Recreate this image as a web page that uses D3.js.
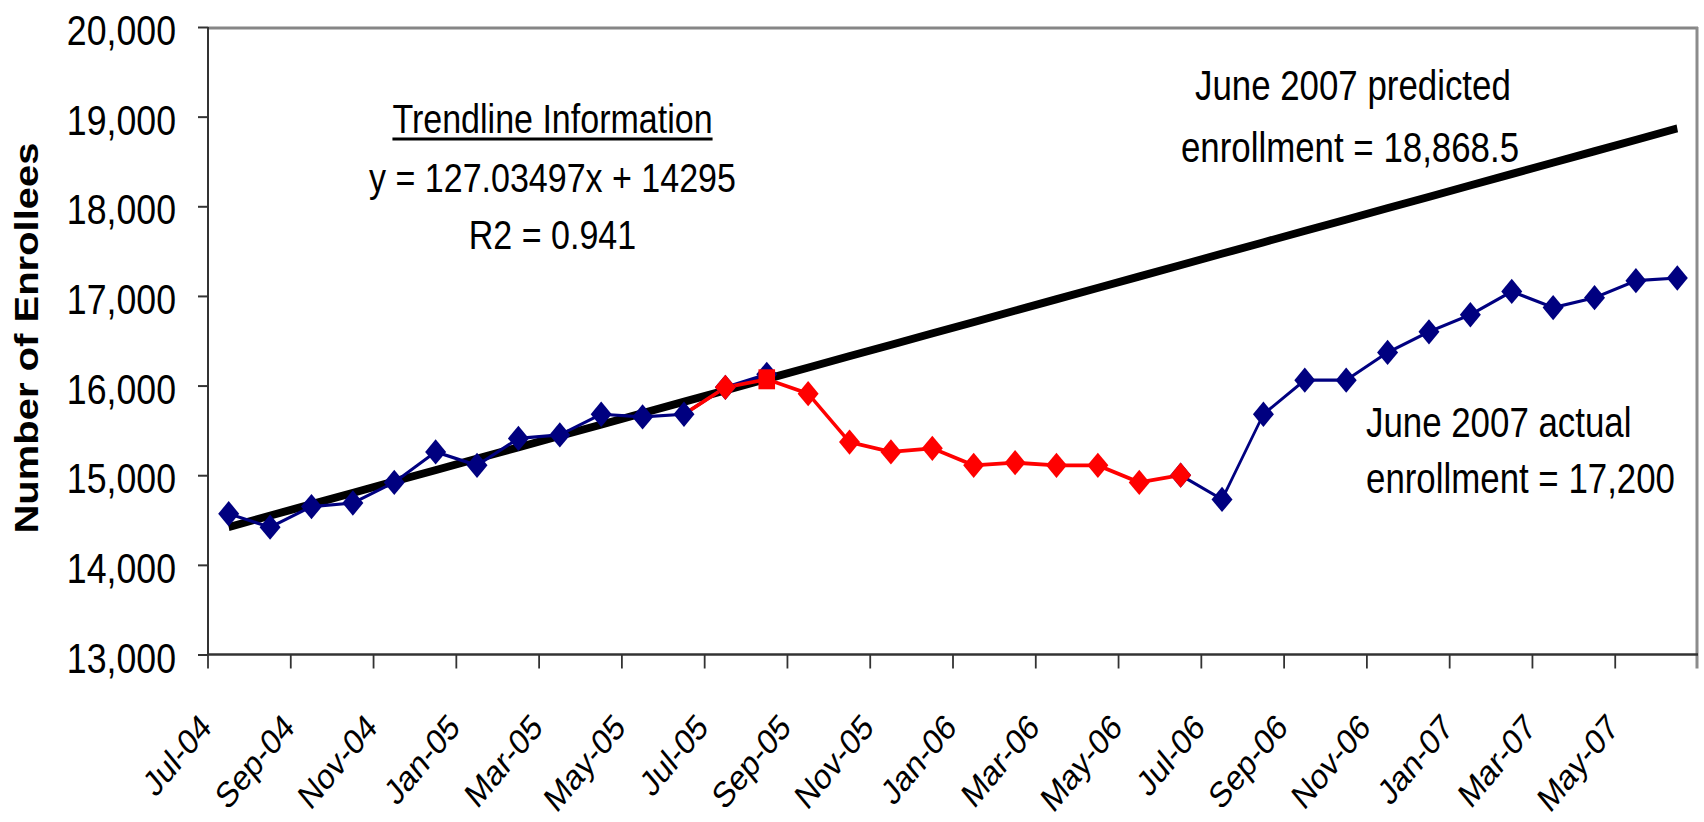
<!DOCTYPE html>
<html>
<head>
<meta charset="utf-8">
<script src="https://cdn.jsdelivr.net/npm/d3@7"></script>
<style>
  html, body { margin: 0; padding: 0; background: #fff; }
  svg { display: block; }
</style>
</head>
<body>
<svg id="chart" width="1704" height="822"></svg>
<script>
// ---- data ----------------------------------------------------------------
const months = [
  "Jul-04","Aug-04","Sep-04","Oct-04","Nov-04","Dec-04",
  "Jan-05","Feb-05","Mar-05","Apr-05","May-05","Jun-05",
  "Jul-05","Aug-05","Sep-05","Oct-05","Nov-05","Dec-05",
  "Jan-06","Feb-06","Mar-06","Apr-06","May-06","Jun-06",
  "Jul-06","Aug-06","Sep-06","Oct-06","Nov-06","Dec-06",
  "Jan-07","Feb-07","Mar-07","Apr-07","May-07","Jun-07"
];

// navy series (gap where the red series takes over)
const actualEnrollment = [
  14570, 14420, 14650, 14690, 14920, 15260,
  15110, 15410, 15450, 15680, 15650, 15680,
  15980, 16125, null,  null,  null,  null,
  null,  null,  null,  null,  null,  15000,
  14730, 15680, 16060, 16060, 16370, 16600,
  16790, 17050, 16870, 16980, 17170, 17200
];

// red series, Jun-05 through Jun-06
const highlightedEnrollment = [
  null,  null,  null,  null,  null,  null,
  null,  null,  null,  null,  null,  15680,
  15980, 16070, 15910, 15370, 15260, 15300,
  15110, 15140, 15110, 15110, 14920, 15000,
  null,  null,  null,  null,  null,  null,
  null,  null,  null,  null,  null,  null
];

const yTicks = [13000, 14000, 15000, 16000, 17000, 18000, 19000, 20000];
const xLabelMonths = months.filter((m, i) => i % 2 === 0);

// linear trendline, x = 1 for Jul-04
const trendSlope = 127.03497;
const trendIntercept = 14295;
const trendR2 = 0.941;

const predictedNote = ["June 2007 predicted", "enrollment = 18,868.5"];
const actualNote = ["June 2007 actual", "enrollment = " + d3.format(",")(actualEnrollment[actualEnrollment.length - 1])];

// ---- layout --------------------------------------------------------------
const FONT = "'Liberation Sans', Arial, Helvetica, sans-serif";
const squeeze = 0.83;              // whole drawing is horizontally condensed
const X = px => px / squeeze;      // page pixels -> condensed frame

const svg = d3.select("#chart");
const root = svg.append("g").attr("transform", `scale(${squeeze},1)`);

const plot = { left: X(208), right: X(1698), top: 27, bottom: 654.5 };

const x = d3.scaleBand().domain(months).range([plot.left, plot.right]);
const y = d3.scaleLinear().domain([13000, 20000]).range([plot.bottom, plot.top]);
const cx = m => x(m) + x.bandwidth() / 2;

// ---- frame ---------------------------------------------------------------
root.append("line")
  .attr("x1", plot.left).attr("x2", plot.right)
  .attr("y1", plot.top + 1).attr("y2", plot.top + 1)
  .attr("stroke", "#868686").attr("stroke-width", 3);
root.append("line")
  .attr("x1", plot.right - X(1)).attr("x2", plot.right - X(1))
  .attr("y1", plot.top).attr("y2", plot.bottom + 14)
  .attr("stroke", "#8c8c8c").attr("stroke-width", 3 / squeeze);

// y axis
const yAxis = root.append("g")
  .attr("transform", `translate(${plot.left},0)`)
  .call(d3.axisLeft(y)
    .tickValues(yTicks)
    .tickFormat(d3.format(","))
    .tickSize(X(10))
    .tickPadding(X(32) - X(10)));
yAxis.attr("font-family", FONT).attr("font-size", 43);
yAxis.select(".domain").remove();
yAxis.selectAll(".tick line").attr("stroke", "#333").attr("stroke-width", 2);
yAxis.selectAll(".tick text").attr("fill", "#000").attr("dy", "0.41em");

root.append("line")
  .attr("x1", plot.left).attr("x2", plot.left)
  .attr("y1", plot.top).attr("y2", plot.bottom)
  .attr("stroke", "#333").attr("stroke-width", 2 / squeeze);

// x axis: ticks on every second category boundary
const boundaryTicks = d3.range(0, months.length, 2).map(k => x(months[k]));
root.append("g").selectAll("line")
  .data(boundaryTicks)
  .join("line")
  .attr("x1", d => d).attr("x2", d => d)
  .attr("y1", plot.bottom).attr("y2", plot.bottom + 14)
  .attr("stroke", "#333").attr("stroke-width", 1.8 / squeeze);
root.append("line")
  .attr("x1", plot.left).attr("x2", plot.right)
  .attr("y1", plot.bottom).attr("y2", plot.bottom)
  .attr("stroke", "#333").attr("stroke-width", 2.5);

// rotated month labels; the top corner of the last glyph sits just left of the category centre
const xLabelSize = 36;
const capShift = 0.716 * xLabelSize * Math.SQRT1_2;
const labelTop = plot.bottom + 56.5;
root.append("g")
  .attr("font-family", FONT).attr("font-size", xLabelSize)
  .selectAll("text")
  .data(xLabelMonths)
  .join("text")
  .attr("transform", d => `translate(${cx(d) - X(30.7) + capShift},${labelTop + capShift}) rotate(-45)`)
  .attr("text-anchor", "end")
  .attr("fill", "#000")
  .text(d => d);

// axis title
root.append("text")
  .attr("transform", `translate(${X(38)},338) rotate(-90)`)
  .attr("text-anchor", "middle")
  .attr("font-family", FONT).attr("font-size", 40).attr("font-weight", "bold")
  .attr("fill", "#000")
  .text("Number of Enrollees");

// ---- series --------------------------------------------------------------
const trend = months.map((m, i) => ({ m, v: trendSlope * (i + 1) + trendIntercept }));
root.append("path")
  .datum(trend)
  .attr("d", d3.line().x(d => cx(d.m)).y(d => y(d.v)))
  .attr("fill", "none").attr("stroke", "#000").attr("stroke-width", 8)
  .attr("stroke-linejoin", "round");

const navy = months.map((m, i) => ({ m, v: actualEnrollment[i] }));
const red = months.map((m, i) => ({ m, v: highlightedEnrollment[i], i }));

const seriesLine = d3.line().defined(d => d.v != null).x(d => cx(d.m)).y(d => y(d.v));

root.append("path").datum(navy).attr("d", seriesLine)
  .attr("fill", "none").attr("stroke", "#000080").attr("stroke-width", 3.2)
  .attr("stroke-linejoin", "round");
root.append("path").datum(red).attr("d", seriesLine)
  .attr("fill", "none").attr("stroke", "#ff0000").attr("stroke-width", 3.8)
  .attr("stroke-linejoin", "round");

const diamond = d3.symbol().type(d3.symbolSquare).size(320)();
const square = d3.symbol().type(d3.symbolSquare).size(400)();

root.append("g").selectAll("path")
  .data(navy.filter(d => d.v != null))
  .join("path")
  .attr("d", diamond)
  .attr("transform", d => `translate(${cx(d.m)},${y(d.v)}) rotate(45)`)
  .attr("fill", "#000080");

// the red series starts from the last navy point, so its first point has no marker
const squareMonth = "Aug-05";
root.append("g").selectAll("path")
  .data(red.filter(d => d.v != null && d.i > 0 && highlightedEnrollment[d.i - 1] != null))
  .join("path")
  .attr("d", d => d.m === squareMonth ? square : diamond)
  .attr("transform", d => d.m === squareMonth
    ? `translate(${cx(d.m)},${y(d.v)})`
    : `translate(${cx(d.m)},${y(d.v)}) rotate(45)`)
  .attr("fill", "#ff0000");

// ---- annotations ---------------------------------------------------------
const info = root.append("g")
  .attr("font-family", FONT).attr("font-size", 41).attr("fill", "#000")
  .attr("text-anchor", "middle");
const infoX = X(552.5);
const heading = info.append("text").attr("x", infoX).attr("y", 133).text("Trendline Information");
const hb = heading.node().getBBox();
info.append("rect")
  .attr("x", hb.x).attr("width", hb.width)
  .attr("y", 137.5).attr("height", 3).attr("fill", "#000");
info.append("text").attr("x", infoX).attr("y", 192)
  .text(`y = ${trendSlope}x + ${trendIntercept}`);
info.append("text").attr("x", infoX).attr("y", 249)
  .text(`R2 = ${trendR2}`);

const notes = root.append("g")
  .attr("font-family", FONT).attr("font-size", 42).attr("fill", "#000");
notes.append("text").attr("x", X(1195)).attr("y", 100).text(predictedNote[0]);
notes.append("text").attr("x", X(1181)).attr("y", 162).text(predictedNote[1]);
notes.append("text").attr("x", X(1366)).attr("y", 437).text(actualNote[0]);
notes.append("text").attr("x", X(1366)).attr("y", 493).text(actualNote[1]);
</script>
</body>
</html>
